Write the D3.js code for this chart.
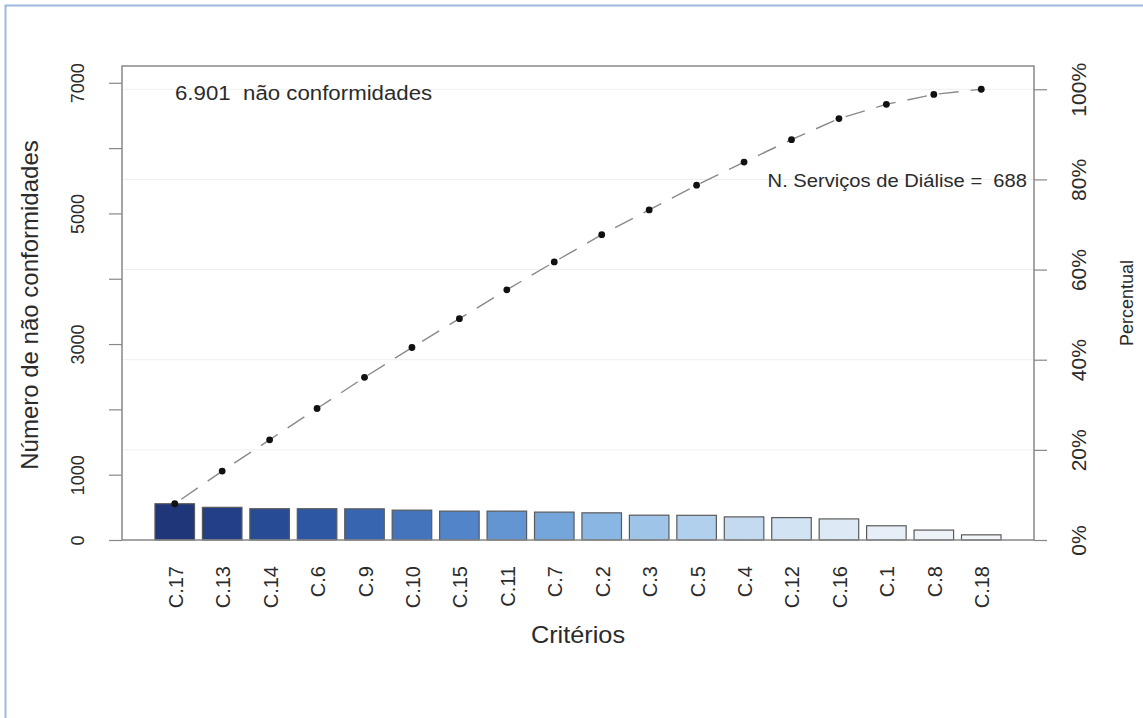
<!DOCTYPE html>
<html>
<head>
<meta charset="utf-8">
<script src="https://cdn.jsdelivr.net/npm/d3@7"></script>
<style>
  html, body { margin: 0; padding: 0; background: #fff; }
  svg { display: block; font-family: "Liberation Sans", Arial, sans-serif; }
</style>
</head>
<body>
<svg id="chart" width="1143" height="718"></svg>
<script>
// Non-conformities per criterion, sorted in Pareto order
const categories = ["C.17","C.13","C.14","C.6","C.9","C.10","C.15","C.11","C.7","C.2","C.3","C.5","C.4","C.12","C.16","C.1","C.8","C.18"];
const counts = [555, 500, 479, 479, 477, 457, 442, 442, 427, 416, 380, 378, 354, 343, 323, 218, 152, 79];
const leftTicks = [0, 1000, 2000, 3000, 4000, 5000, 6000, 7000];
const leftTickLabels = [0, 1000, 3000, 5000, 7000];
const pctTicks = [0, 0.2, 0.4, 0.6, 0.8, 1.0];
const nServices = 688;

const svg = d3.select("#chart");
const textColor = "#2b2b2b";

// Page frame
svg.append("rect")
  .attr("x", 5.5).attr("y", 5.5)
  .attr("width", 1400).attr("height", 900)
  .attr("fill", "none").attr("stroke", "#9db8de").attr("stroke-width", 2);

const plot = { left: 122, right: 1034, top: 66, bottom: 540 };

const total = d3.sum(counts);
const cumulative = d3.cumsum(counts);

const x = d3.scaleBand()
  .domain(categories)
  .range([plot.left, plot.right])
  .paddingInner(1 / 6)
  .paddingOuter(0.695);

const y = d3.scaleLinear().domain([0, 7000]).range([540, 82.8]);
// Percentage axis: 100% lines up with the grand total on the count axis
const yPct = d3.scaleLinear().domain([0, 1]).range([y(0), y(total)]);

const color = d3.scaleSequential()
  .domain([0, categories.length - 1])
  .interpolator(d3.interpolateRgbBasis(["#1f3679", "#2f62b6", "#7db3e3", "#d9e7f5", "#f4f7fb"]));

// Faint horizontal guides at the percentage ticks
svg.append("g").selectAll("line")
  .data(pctTicks.slice(1))
  .join("line")
  .attr("x1", plot.left).attr("x2", plot.right)
  .attr("y1", d => yPct(d)).attr("y2", d => yPct(d))
  .attr("stroke", "#efefef").attr("stroke-width", 1);

// Bars
svg.append("g").selectAll("rect")
  .data(categories)
  .join("rect")
  .attr("x", d => x(d))
  .attr("width", x.bandwidth())
  .attr("y", (d, i) => y(counts[i]))
  .attr("height", (d, i) => y(0) - y(counts[i]))
  .attr("fill", (d, i) => color(i))
  .attr("stroke", "#5a5a5a").attr("stroke-width", 1.2);

// Cumulative line
const pts = categories.map((c, i) => [x(c) + x.bandwidth() / 2, yPct(cumulative[i] / total)]);
svg.append("path")
  .attr("d", d3.line()(pts))
  .attr("fill", "none")
  .attr("stroke", "#8a8a8a").attr("stroke-width", 1.4)
  .attr("stroke-dasharray", "20,12")
  .attr("stroke-dashoffset", -8);
svg.append("g").selectAll("circle")
  .data(pts)
  .join("circle")
  .attr("cx", d => d[0]).attr("cy", d => d[1])
  .attr("r", 3.4).attr("fill", "#111");

// Plot box
svg.append("rect")
  .attr("x", plot.left).attr("y", plot.top)
  .attr("width", plot.right - plot.left).attr("height", plot.bottom - plot.top)
  .attr("fill", "none").attr("stroke", "#888").attr("stroke-width", 1.5);

// Left axis
const leftAxis = svg.append("g")
  .attr("transform", `translate(${plot.left},0)`)
  .call(d3.axisLeft(y).tickValues(leftTicks).tickSize(13).tickSizeOuter(0)
    .tickFormat(d => leftTickLabels.includes(d) ? String(d) : ""));
leftAxis.select(".domain").remove();
leftAxis.selectAll(".tick line").attr("stroke", "#888").attr("stroke-width", 1.2);
leftAxis.selectAll(".tick text")
  .attr("transform", "rotate(-90)")
  .attr("x", 0).attr("y", -44)
  .attr("dy", "0.35em")
  .attr("text-anchor", "middle")
  .attr("fill", textColor)
  .style("font-size", "18px");

// Right axis
const rightAxis = svg.append("g")
  .attr("transform", `translate(${plot.right},0)`)
  .call(d3.axisRight(yPct).tickValues(pctTicks).tickSize(13).tickFormat(d3.format(".0%")));
rightAxis.select(".domain").remove();
rightAxis.selectAll(".tick line").attr("stroke", "#888").attr("stroke-width", 1.2);
rightAxis.selectAll(".tick text")
  .attr("transform", "rotate(-90)")
  .attr("x", 0).attr("y", 45)
  .attr("dy", "0.35em")
  .attr("text-anchor", "middle")
  .attr("fill", textColor)
  .style("font-size", "21px");

// Category axis
const bottomAxis = svg.append("g")
  .attr("transform", `translate(0,${plot.bottom})`)
  .call(d3.axisBottom(x).tickSize(0));
bottomAxis.select(".domain").remove();
bottomAxis.selectAll(".tick text")
  .attr("transform", "rotate(-90)")
  .attr("x", -26).attr("y", 1)
  .attr("dy", "0.35em")
  .attr("text-anchor", "end")
  .attr("fill", textColor)
  .style("font-size", "20px");

// Axis titles
svg.append("text")
  .attr("transform", "translate(38,305) rotate(-90)")
  .attr("text-anchor", "middle")
  .attr("fill", textColor)
  .style("font-size", "24px")
  .text("Número de não conformidades");

svg.append("text")
  .attr("transform", "translate(1133,303) rotate(-90)")
  .attr("text-anchor", "middle")
  .attr("fill", textColor)
  .style("font-size", "18px")
  .text("Percentual");

svg.append("text")
  .attr("transform", `translate(${(plot.left + plot.right) / 2},643) scale(1.1,1)`)
  .attr("text-anchor", "middle")
  .attr("fill", textColor)
  .style("font-size", "23px")
  .text("Critérios");

// Annotations
const fmt = d3.formatLocale({ decimal: ",", thousands: ".", grouping: [3], currency: ["", ""] }).format(",d");
svg.append("text")
  .attr("transform", "translate(175,100) scale(1.06,1)")
  .attr("fill", textColor)
  .style("font-size", "21px")
  .attr("xml:space", "preserve")
  .text(`${fmt(total)}  não conformidades`);

svg.append("text")
  .attr("transform", "translate(1027,187) scale(1.12,1)")
  .attr("text-anchor", "end")
  .attr("fill", textColor)
  .style("font-size", "18px")
  .attr("xml:space", "preserve")
  .text(`N. Serviços de Diálise =  ${nServices}`);
</script>
</body>
</html>
